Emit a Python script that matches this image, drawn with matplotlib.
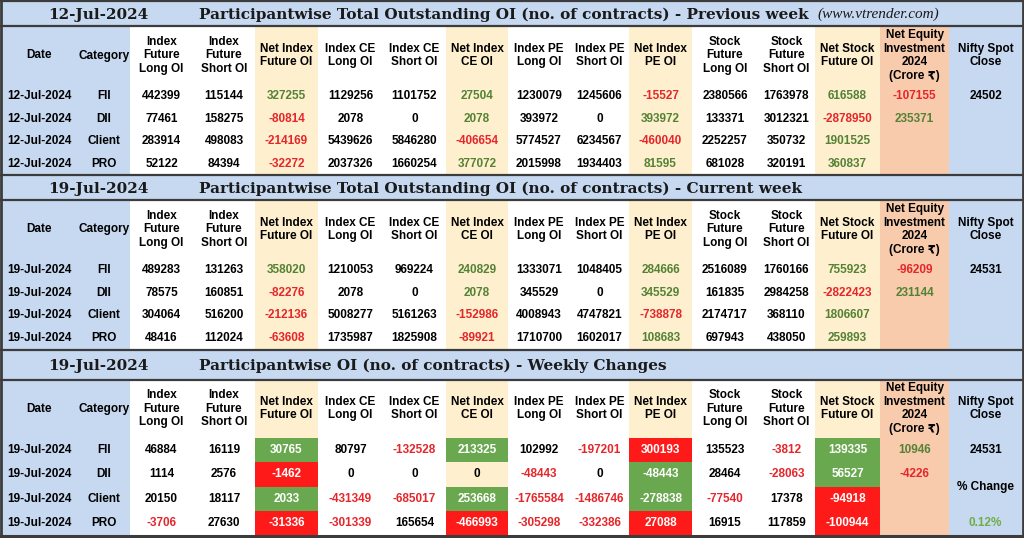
import matplotlib.pyplot as plt
from matplotlib.patches import Rectangle

# ---- data ----
categories = ["FII", "DII", "Client", "PRO"]
prev_date = "12-Jul-2024"
curr_date = "19-Jul-2024"

headers = ["Index\nFuture\nLong OI", "Index\nFuture\nShort OI", "Net Index\nFuture OI",
           "Index CE\nLong OI", "Index CE\nShort OI", "Net Index\nCE OI",
           "Index PE\nLong OI", "Index PE\nShort OI", "Net Index\nPE OI",
           "Stock\nFuture\nLong OI", "Stock\nFuture\nShort OI", "Net Stock\nFuture OI"]

prev_oi = [
    [442399, 115144, 327255, 1129256, 1101752, 27504, 1230079, 1245606, -15527, 2380566, 1763978, 616588],
    [77461, 158275, -80814, 2078, 0, 2078, 393972, 0, 393972, 133371, 3012321, -2878950],
    [283914, 498083, -214169, 5439626, 5846280, -406654, 5774527, 6234567, -460040, 2252257, 350732, 1901525],
    [52122, 84394, -32272, 2037326, 1660254, 377072, 2015998, 1934403, 81595, 681028, 320191, 360837],
]
curr_oi = [
    [489283, 131263, 358020, 1210053, 969224, 240829, 1333071, 1048405, 284666, 2516089, 1760166, 755923],
    [78575, 160851, -82276, 2078, 0, 2078, 345529, 0, 345529, 161835, 2984258, -2822423],
    [304064, 516200, -212136, 5008277, 5161263, -152986, 4008943, 4747821, -738878, 2174717, 368110, 1806607],
    [48416, 112024, -63608, 1735987, 1825908, -89921, 1710700, 1602017, 108683, 697943, 438050, 259893],
]
chg_oi = [
    [46884, 16119, 30765, 80797, -132528, 213325, 102992, -197201, 300193, 135523, -3812, 139335],
    [1114, 2576, -1462, 0, 0, 0, -48443, 0, -48443, 28464, -28063, 56527],
    [20150, 18117, 2033, -431349, -685017, 253668, -1765584, -1486746, -278838, -77540, 17378, -94918],
    [-3706, 27630, -31336, -301339, 165654, -466993, -305298, -332386, 27088, 16915, 117859, -100944],
]
prev_equity = [-107155, 235371, None, None]
curr_equity = [-96209, 231144, None, None]
chg_equity = [10946, -4226, None, None]
prev_nifty = 24502
curr_nifty = 24531
nifty_pct = "0.12%"

net_cols = [2, 5, 8, 11]
put_col = 8

# ---- layout ----
col_edges = [0, 78, 130, 193, 255, 318, 383, 446, 508, 570, 629, 692, 758, 815, 880, 949, 1022]
BLUE = "#C6D9F1"
YELLOW = "#FEF0CE"
ORANGE = "#F8CBAD"
GREEN_T = "#548235"
RED_T = "#E5262B"
GREEN_F = "#6AA84F"
RED_F = "#FF1A1A"
LINE = "#3C3C3C"

SANS = ["Liberation Sans", "DejaVu Sans", "Noto Sans"]
SERIF = "DejaVu Serif"
FS = 8.5

fig = plt.figure(figsize=(10.24, 5.38), dpi=100)
ax = fig.add_axes([0, 0, 1, 1])
ax.set_xlim(0, 1024)
ax.set_ylim(538, 0)
ax.axis("off")
renderer = fig.canvas.get_renderer()


def cx(i):
    return (col_edges[i] + col_edges[i + 1]) / 2


def fill(x0, x1, y0, y1, color):
    ax.add_patch(Rectangle((x0, y0), x1 - x0, y1 - y0, facecolor=color, edgecolor="none", zorder=1))


def txt(x, y, s, color="black", **kw):
    ax.text(x, y, s, ha="center", va="center", fontsize=FS, fontweight="bold",
            family=SANS, color=color, zorder=3, linespacing=1.17, **kw)


def fit_text(x, y, s, width, ha="left", fs=13, **kw):
    # shrink/grow the font until the text spans the given pixel width
    t = ax.text(x, y, s, ha=ha, va="center", fontsize=fs, color="#1a1a1a", zorder=3, **kw)
    w = t.get_window_extent(renderer).width
    t.set_fontsize(fs * width / w)
    return t


def sign_color(v):
    if v > 0:
        return GREEN_T
    if v < 0:
        return RED_T
    return "black"


def section(top, title_h, head_h, row_h, date, title, rows, equity, changes, title_w, url=False):
    bottom = top + title_h + head_h + 4 * row_h
    ht = top + title_h
    rt = ht + head_h
    # title bar
    fill(0, 1024, top, ht, BLUE)
    ym = top + title_h / 2 + 1
    fit_text(98, ym, date, 100, ha="center", fontweight="bold", family=SERIF)
    fit_text(199, ym, title, title_w, fontweight="bold", family=SERIF)
    if url:
        fit_text(817, ym, "(www.vtrender.com)", 122, fs=10, style="italic", family="Liberation Serif")
    # column backgrounds
    fill(col_edges[0], col_edges[2], ht, bottom, BLUE)
    for c in net_cols:
        fill(col_edges[c + 2], col_edges[c + 3], ht, bottom, YELLOW)
    fill(col_edges[14], col_edges[15], ht, bottom, ORANGE)
    fill(col_edges[15], col_edges[16], ht, bottom, BLUE)
    # headers
    hc = ht + head_h / 2
    txt(cx(0), hc, "Date")
    txt(cx(1), hc, "Category")
    for j, h in enumerate(headers):
        txt(cx(j + 2), hc, h)
    txt(cx(14), hc, "Net Equity\nInvestment\n2024\n(Crore \u20b9)")
    txt(cx(15), hc, "Nifty Spot\nClose")
    # rows
    for i, cat in enumerate(categories):
        y0 = rt + i * row_h
        yc = y0 + row_h / 2
        txt(cx(0), yc, date)
        txt(cx(1), yc, cat)
        for j, v in enumerate(rows[i]):
            col = j + 2
            if j in net_cols:
                if changes and v != 0:
                    good = (v > 0) != (j == put_col)
                    fill(col_edges[col], col_edges[col + 1], y0, y0 + row_h,
                         GREEN_F if good else RED_F)
                    txt(cx(col), yc, str(v), color="white")
                elif changes:
                    txt(cx(col), yc, str(v))
                else:
                    txt(cx(col), yc, str(v), color=sign_color(v))
            else:
                c = RED_T if (changes and v < 0) else "black"
                txt(cx(col), yc, str(v), color=c)
        if equity[i] is not None:
            txt(cx(14), yc, str(equity[i]), color=sign_color(equity[i]))
    # lines
    for y in (top, ht):
        ax.plot([0, 1024], [y, y], color=LINE, lw=1.6, zorder=4, solid_capstyle="butt")
    return rt, bottom


rt1, b1 = section(1, 25, 59, 22.6, prev_date,
                  "Participantwise Total Outstanding OI (no. of contracts) - Previous week",
                  prev_oi, prev_equity, False, 608, url=True)
txt(cx(15), rt1 + 11.3, str(prev_nifty))

rt2, b2 = section(b1, 25, 58, 22.8, curr_date,
                  "Participantwise Total Outstanding OI (no. of contracts) - Current week",
                  curr_oi, curr_equity, False, 601)
txt(cx(15), rt2 + 11.4, str(curr_nifty))

rt3, b3 = section(b2, 30, 58, 24.5, curr_date,
                  "Participantwise OI (no. of contracts) - Weekly Changes",
                  chg_oi, chg_equity, True, 466)
txt(cx(15), rt3 + 12.25, str(curr_nifty))
txt(cx(15), rt3 + 2 * 24.5, "% Change")
txt(cx(15), rt3 + 3.5 * 24.5, nifty_pct, color="#70AD47")

# outer frame
ax.plot([0, 1024], [b3, b3], color=LINE, lw=2.2, zorder=4)
ax.plot([1, 1], [0, b3], color=LINE, lw=2, zorder=4)
ax.plot([1022.5, 1022.5], [0, b3], color=LINE, lw=2, zorder=4)
fill(0, 1024, b3, 538, "#1a1a1a")

fig.savefig("out.png", dpi=100)
